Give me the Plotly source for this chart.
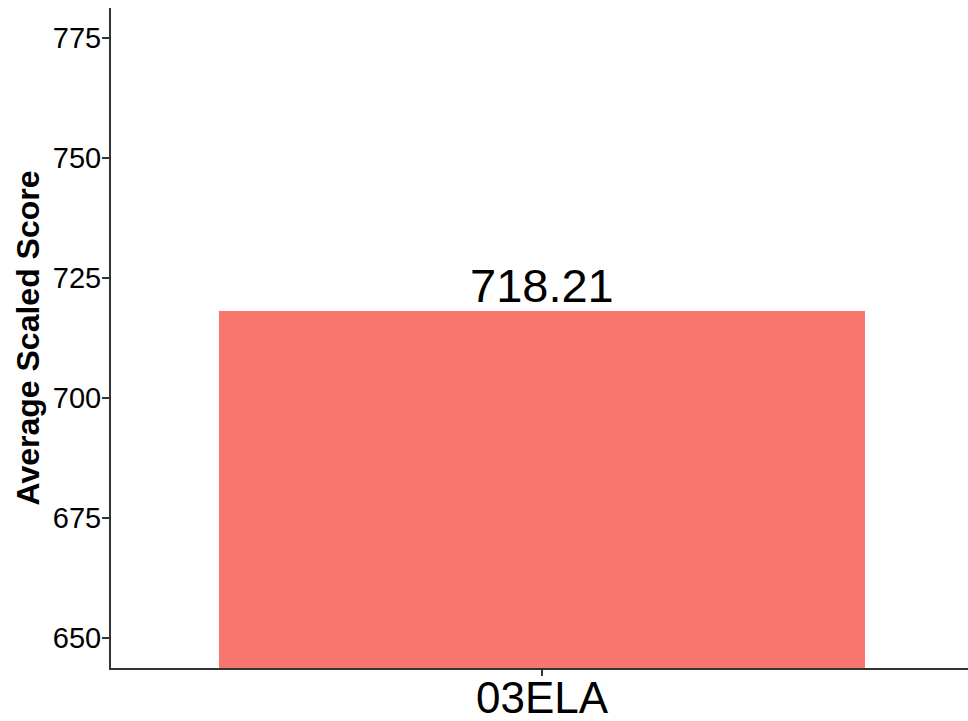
import plotly.graph_objects as go

categories = ["03ELA"]
scores = [718.21]
score_labels = ["718.21"]
y_tick_values = [650, 675, 700, 725, 750, 775]
y_tick_labels = ["650", "675", "700", "725", "750", "775"]
y_title = "Average Scaled Score"

FONT = "Liberation Sans, Arial, sans-serif"
AXIS_COLOR = "#333333"

fig = go.Figure()
fig.add_trace(go.Bar(
    x=categories,
    y=scores,
    width=0.9,
    marker=dict(color="#F8766D", line=dict(width=0)),
    hoverinfo="skip",
))

for c, v, t in zip(categories, scores, score_labels):
    fig.add_annotation(
        x=c, y=v, text=t, showarrow=False,
        xanchor="center", yanchor="bottom", yshift=-3,
        font=dict(family=FONT, size=47, color="black"),
    )

fig.update_layout(
    width=968, height=721,
    margin=dict(l=111, r=0, t=8, b=53),
    plot_bgcolor="white", paper_bgcolor="white",
    showlegend=False, bargap=0,
)

fig.update_xaxes(
    range=[-0.6, 0.593],
    showline=True, linecolor=AXIS_COLOR, linewidth=2,
    ticks="outside", ticklen=6, tickcolor=AXIS_COLOR, tickwidth=2,
    tickfont=dict(family=FONT, size=44, color="black"),
    ticklabelstandoff=-16,
    showgrid=False, zeroline=False, automargin=False,
)

fig.update_yaxes(
    range=[643.82, 781.25],
    tickmode="array", tickvals=y_tick_values, ticktext=y_tick_labels,
    showline=True, linecolor=AXIS_COLOR, linewidth=2,
    ticks="outside", ticklen=7, tickcolor=AXIS_COLOR, tickwidth=2,
    tickfont=dict(family=FONT, size=29, color="black"),
    ticklabelstandoff=-5,
    showgrid=False, zeroline=False, automargin=False,
    title=dict(text=y_title, font=dict(family=FONT, size=32, color="black", weight="bold"), standoff=4),
)

fig.write_html(
    "out.html",
    config={"displayModeBar": False},
    post_script="document.body.style.margin='0';document.body.style.overflow='hidden';",
)
